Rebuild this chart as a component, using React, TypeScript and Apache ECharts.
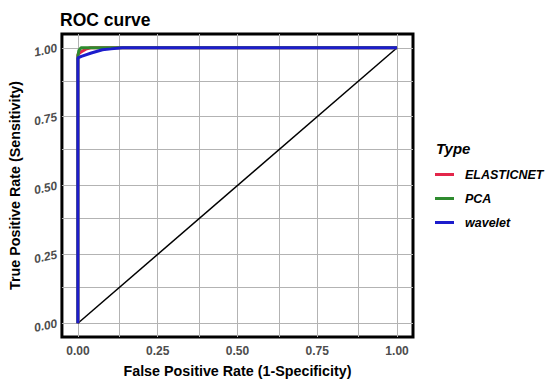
import React, { useEffect, useRef } from "react";
import * as echarts from "echarts";

const seriesNames = ["ELASTICNET", "PCA", "wavelet"];
const seriesColors = ["#e3264a", "#2e8b2e", "#1c1ccc"];

const elasticFpr = [0, 0, 0.01, 0.025, 0.04, 1];
const elasticTpr = [0, 0.975, 0.985, 0.995, 1, 1];

const pcaFpr = [0, 0, 0.003, 0.01, 1];
const pcaTpr = [0, 0.97, 0.99, 1, 1];

const waveletFpr = [0, 0, 0.011, 0.042, 0.077, 0.104, 0.139, 1];
const waveletTpr = [0, 0.963, 0.969, 0.981, 0.993, 0.996, 1, 1];

const diagFpr = [0, 1];
const diagTpr = [0, 1];

const tickValues = [0, 0.25, 0.5, 0.75, 1];
const gridValues = [0, 0.125, 0.25, 0.375, 0.5, 0.625, 0.75, 0.875, 1];

const zip = (a: number[], b: number[]) => a.map((v, i) => [v, b[i]]);

export default function App() {
  const ref = useRef<HTMLDivElement>(null);
  useEffect(() => {
    document.body.style.margin = "0";
    if (!ref.current) return;
    const chart = echarts.init(ref.current, undefined, { renderer: "svg" });
    const font = "'Liberation Sans', Arial, sans-serif";
    const fmt = (v: number) => v.toFixed(2);
    const gridLines = [
      ...gridValues.map((v) => ({ xAxis: v })),
      ...gridValues.map((v) => ({ yAxis: v })),
    ];
    const curves = [
      zip(elasticFpr, elasticTpr),
      zip(pcaFpr, pcaTpr),
      zip(waveletFpr, waveletTpr),
    ];
    chart.setOption({
      animation: false,
      textStyle: { fontFamily: font },
      title: {
        text: "ROC curve",
        left: 55,
        top: 6,
        textStyle: { fontSize: 17.5, fontWeight: "bold", color: "#000", fontFamily: font },
      },
      graphic: [
        {
          type: "text",
          left: 436,
          top: 141,
          style: {
            text: "Type",
            fontSize: 15,
            fontWeight: "bold",
            fontStyle: "italic",
            fill: "#000",
            fontFamily: font,
          },
        },
      ],
      legend: {
        data: seriesNames,
        orient: "vertical",
        left: 435,
        top: 168,
        padding: 0,
        itemWidth: 19,
        itemHeight: 3,
        itemGap: 11,
        icon: "rect",
        textStyle: {
          fontSize: 12.5,
          fontWeight: "bold",
          fontStyle: "italic",
          color: "#000",
          fontFamily: font,
          padding: [0, 0, 0, 6],
        },
      },
      grid: {
        left: 57,
        right: 137,
        top: 34,
        bottom: 50,
        show: true,
        backgroundColor: "#ffffff",
        borderColor: "#000",
        borderWidth: 3,
      },
      xAxis: {
        type: "value",
        min: -0.05,
        max: 1.05,
        name: "False Positive Rate (1-Specificity)",
        nameLocation: "middle",
        nameGap: 27,
        nameTextStyle: { fontSize: 14.3, fontWeight: "bold", color: "#000", fontFamily: font },
        splitLine: { show: false },
        axisLine: { show: false },
        axisTick: { show: true, customValues: tickValues, length: 4, lineStyle: { color: "#555" } },
        axisLabel: {
          customValues: tickValues,
          formatter: fmt,
          margin: 8,
          fontSize: 12,
          fontWeight: "bold",
          color: "#4d4d4d",
          fontFamily: font,
        },
      },
      yAxis: {
        type: "value",
        min: -0.05,
        max: 1.05,
        name: "True Positive Rate (Sensitivity)",
        nameLocation: "middle",
        nameGap: 38,
        nameTextStyle: { fontSize: 14.3, fontWeight: "bold", color: "#000", fontFamily: font },
        splitLine: { show: false },
        axisLine: { show: false },
        axisTick: { show: true, customValues: tickValues, length: 4, lineStyle: { color: "#555" } },
        axisLabel: {
          customValues: tickValues,
          formatter: fmt,
          margin: 5,
          rotate: 12,
          fontSize: 12,
          fontWeight: "bold",
          fontStyle: "italic",
          color: "#4d4d4d",
          fontFamily: font,
        },
      },
      series: [
        {
          name: "diag",
          type: "line",
          data: zip(diagFpr, diagTpr),
          showSymbol: false,
          lineStyle: { color: "#000", width: 1.5 },
          itemStyle: { color: "#000" },
          z: 2,
          markLine: {
            silent: true,
            symbol: "none",
            label: { show: false },
            z: 1,
            lineStyle: { color: "#b3b3b3", width: 1, type: "solid" },
            data: gridLines,
          },
        },
        ...seriesNames.map((name, i) => ({
          name,
          type: "line",
          data: curves[i],
          showSymbol: false,
          lineStyle: { color: seriesColors[i], width: 3 },
          itemStyle: { color: seriesColors[i] },
          z: 3 + i,
        })),
      ],
    });
    return () => chart.dispose();
  }, []);
  return <div ref={ref} style={{ width: 550, height: 387 }} />;
}
